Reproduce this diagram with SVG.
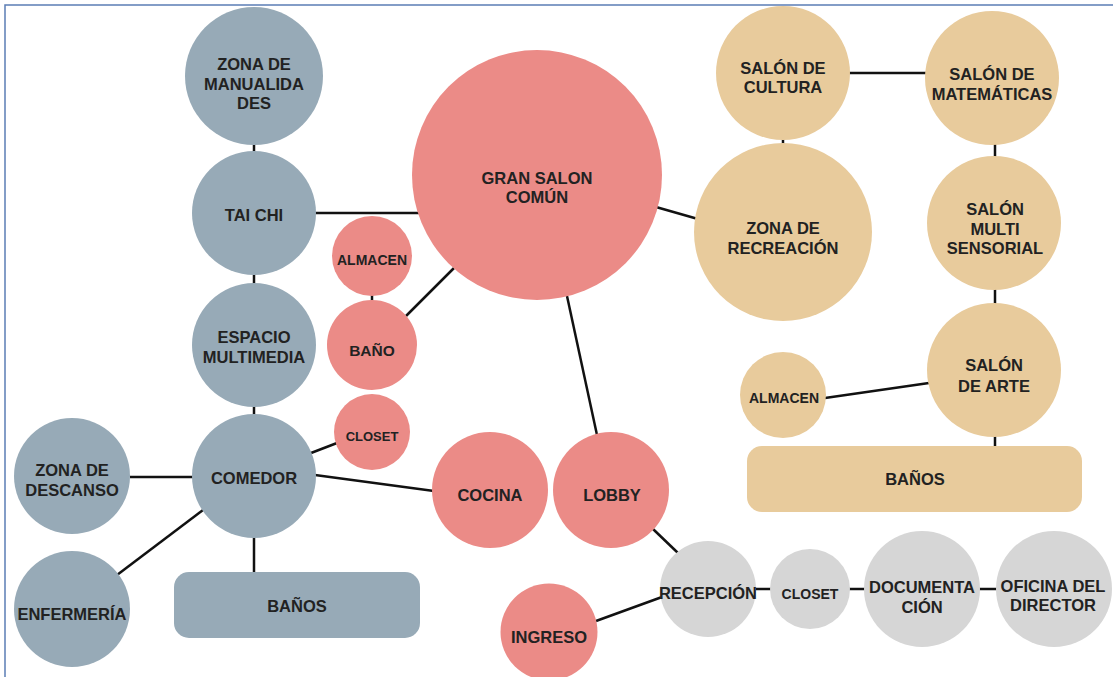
<svg xmlns="http://www.w3.org/2000/svg" width="1113" height="677" viewBox="0 0 1113 677">
<style>
.slate{fill:#97aab7}
.pink{fill:#eb8b87}
.tan{fill:#e8cb9c}
.grey{fill:#d6d6d6}
text{font-family:"Liberation Sans",Arial,sans-serif;font-weight:bold;font-size:16.5px;fill:#222;text-anchor:middle}
text.s{font-size:14px}
#connectors line{stroke:#111;stroke-width:2.5}
</style>
<rect x="0" y="0" width="1113" height="677" fill="#fff"/>
<rect x="5" y="5" width="1130" height="700" fill="none" stroke="#5b7db5" stroke-width="1.5"/>
<g id="connectors">
<line x1="254" y1="140" x2="254" y2="155"/>
<line x1="254" y1="272" x2="254" y2="287"/>
<line x1="254" y1="403" x2="254" y2="418"/>
<line x1="130" y1="477" x2="196" y2="477"/>
<line x1="117" y1="575" x2="203" y2="510"/>
<line x1="254" y1="535" x2="254" y2="573"/>
<line x1="314" y1="213" x2="419" y2="213"/>
<line x1="372" y1="294" x2="372" y2="302"/>
<line x1="406" y1="316" x2="454" y2="268"/>
<line x1="311" y1="453" x2="337" y2="443"/>
<line x1="315" y1="475" x2="434" y2="491"/>
<line x1="567" y1="296" x2="597" y2="435"/>
<line x1="653" y1="529" x2="678" y2="553"/>
<line x1="596" y1="621" x2="662" y2="597"/>
<line x1="754" y1="589" x2="772" y2="589"/>
<line x1="849" y1="589" x2="866" y2="589"/>
<line x1="978" y1="589" x2="997" y2="589"/>
<line x1="849" y1="73" x2="927" y2="73"/>
<line x1="783" y1="138" x2="783" y2="146"/>
<line x1="995" y1="142" x2="995" y2="159"/>
<line x1="995" y1="288" x2="995" y2="304"/>
<line x1="995" y1="435" x2="995" y2="447"/>
<line x1="825" y1="398" x2="929" y2="383"/>
<line x1="656" y1="207" x2="698" y2="219"/>
</g>
<g id="manualidades"><circle class="slate" cx="254" cy="76" r="69"/><text x="254" y="70">ZONA DE</text><text x="254" y="89.5">MANUALIDA</text><text x="254" y="109">DES</text></g>
<g id="taichi"><circle class="slate" cx="254" cy="213" r="62"/><text x="254" y="221">TAI CHI</text></g>
<g id="multimedia"><circle class="slate" cx="254" cy="345" r="62"/><text x="254" y="343">ESPACIO</text><text x="254" y="363">MULTIMEDIA</text></g>
<g id="comedor"><circle class="slate" cx="254" cy="476" r="62"/><text x="254" y="484">COMEDOR</text></g>
<g id="descanso"><circle class="slate" cx="72" cy="476" r="58"/><text x="72" y="475.5">ZONA DE</text><text x="72" y="495.5">DESCANSO</text></g>
<g id="enfermeria"><circle class="slate" cx="72" cy="609" r="58"/><text x="72" y="620">ENFERMERÍA</text></g>
<g id="banos-gris"><rect class="slate" x="174" y="572" width="246" height="66" rx="15"/><text x="297" y="611.5">BAÑOS</text></g>
<g id="gran-salon"><circle class="pink" cx="537" cy="175" r="125"/><text x="537" y="184">GRAN SALON</text><text x="537" y="203">COMÚN</text></g>
<g id="almacen-rosa"><circle class="pink" cx="372" cy="256" r="40"/><text class="s" x="372" y="265">ALMACEN</text></g>
<g id="bano"><circle class="pink" cx="372" cy="345" r="45"/><text x="372" y="355.5" style="font-size:15.5px">BAÑO</text></g>
<g id="closet-rosa"><circle class="pink" cx="372" cy="432" r="38"/><text class="s" x="372" y="441" style="font-size:13px">CLOSET</text></g>
<g id="cocina"><circle class="pink" cx="490" cy="490" r="58"/><text x="490" y="500.5">COCINA</text></g>
<g id="lobby"><circle class="pink" cx="611" cy="490" r="58"/><text x="612" y="500.5">LOBBY</text></g>
<g id="ingreso"><circle class="pink" cx="549" cy="632" r="48.5"/><text x="549" y="642.5">INGRESO</text></g>
<g id="recepcion"><circle class="grey" cx="708" cy="589" r="48"/><text x="708" y="599">RECEPCIÓN</text></g>
<g id="closet-gris"><circle class="grey" cx="810" cy="589" r="40"/><text class="s" x="810" y="599">CLOSET</text></g>
<g id="documentacion"><circle class="grey" cx="922" cy="589" r="58"/><text x="922" y="593">DOCUMENTA</text><text x="922" y="613">CIÓN</text></g>
<g id="oficina"><circle class="grey" cx="1054" cy="589" r="58"/><text x="1053" y="592">OFICINA DEL</text><text x="1053" y="611">DIRECTOR</text></g>
<g id="cultura"><circle class="tan" cx="783" cy="73" r="67"/><text x="783" y="73.5">SALÓN DE</text><text x="783" y="93">CULTURA</text></g>
<g id="matematicas"><circle class="tan" cx="992" cy="78" r="67"/><text x="992" y="80">SALÓN DE</text><text x="992" y="99.5">MATEMÁTICAS</text></g>
<g id="recreacion"><circle class="tan" cx="783" cy="232" r="89"/><text x="783" y="233.5">ZONA DE</text><text x="783" y="254">RECREACIÓN</text></g>
<g id="multisensorial"><circle class="tan" cx="994" cy="223" r="67"/><text x="995" y="215">SALÓN</text><text x="995" y="234.5">MULTI</text><text x="995" y="254">SENSORIAL</text></g>
<g id="arte"><circle class="tan" cx="994" cy="370" r="67"/><text x="994" y="371">SALÓN</text><text x="994" y="391.5">DE ARTE</text></g>
<g id="almacen-tan"><circle class="tan" cx="783" cy="395" r="43"/><text class="s" x="784" y="402.5">ALMACEN</text></g>
<g id="banos-tan"><rect class="tan" x="747" y="446" width="335" height="66" rx="15"/><text x="915" y="484.5">BAÑOS</text></g>
</svg>
